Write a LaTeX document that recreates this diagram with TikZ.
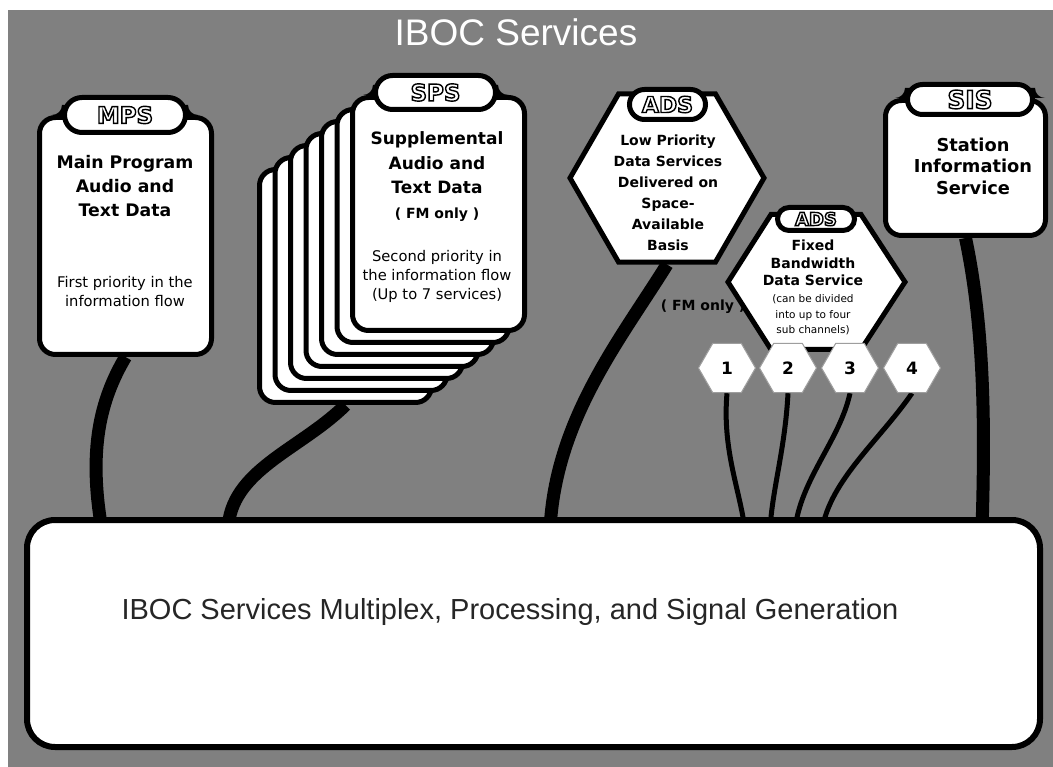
\documentclass[tikz,border=0pt]{standalone}
\usepackage{fontspec}
\setmainfont{DejaVu Sans}
\newfontfamily\arialfont{Liberation Sans}
\usetikzlibrary{shapes.geometric,shapes.misc}

\definecolor{bggray}{gray}{0.5}
\definecolor{hexrim}{gray}{0.62}

\pgfdeclarelayer{wires}
\pgfsetlayers{wires,main}

\tikzset{
  card/.style={draw, fill=white, line width=5pt, rounded corners=16pt, inner sep=0pt
  },
  tab/.style={draw, fill=white, line width=5pt, rounded rectangle, inner sep=0pt,
    text=white, font=\bfseries\fontsize{23}{23}\selectfont
  },
  hexa/.style={draw, fill=white, line width=5pt, regular polygon, regular polygon sides=6,
    inner sep=0pt
  },
  subhex/.style={draw=hexrim, fill=white, line width=1pt, regular polygon,
    regular polygon sides=6, minimum size=57pt, inner sep=0pt,
    font=\bfseries\fontsize{17}{17}\selectfont
  },
  head/.style={align=center, font=\bfseries\fontsize{17.3}{24}\selectfont},
  note/.style={align=center, font=\fontsize{14.7}{19}\selectfont},
  fmnote/.style={font=\bfseries\fontsize{14}{14}\selectfont},
  feed/.style={line width=13pt},
  thinfeed/.style={line width=5pt}
}
% white letters with a black rim
\newcommand{\tabtext}[1]{\special{pdf:literal direct 2 Tr 1.4 w 0 G}#1\special{pdf:literal direct 0 Tr}}
% black fillets where a tab meets its card
\newcommand{\tabfillet}[2]{
  \fill (#1.west |- #2.north) ++(6,0) -- ++(0,-10) -- ++(-6,0) .. controls +(0,5.5) and +(5.5,0) .. ++(-10,10) -- cycle;
  \fill (#1.east |- #2.north) ++(-6,0) -- ++(0,-10) -- ++(6,0) .. controls +(0,5.5) and +(-5.5,0) .. ++(10,10) -- cycle;
}

\begin{document}
\begin{tikzpicture}[x=1pt,y=-1pt]
 \useasboundingbox (0,0) rectangle (1053,767);

 % title
 \node[text=white, font=\arialfont\fontsize{37}{37}\selectfont] (title) at (516,32) {IBOC Services};

 % main program
 \node[card, minimum width=172pt, minimum height=237pt] (mps) at (125.5,236) {};
 \node[tab, minimum width=121pt, minimum height=35pt] (mpstab) at (125,115) {\tabtext{MPS}};
 \node[head] (mpshead) at (125,186) {Main Program\\Audio and\\Text Data};
 \node[note] (mpsnote) at (125,292) {First priority in the\\information flow};

 % supplemental program stack
 \foreach \k in {6,5,...,1} {
   \node[card, minimum width=172pt, minimum height=233pt] (sps\k) at ({438.5-15.5*\k},{214+12*\k}) {};
 }
 \node[card, minimum width=172pt, minimum height=233pt] (sps) at (438.5,214) {};
 \node[tab, minimum width=120pt, minimum height=34pt] (spstab) at (435.5,92.5) {\tabtext{SPS}};
 \node[head, font=\bfseries\fontsize{17}{24.5}\selectfont] (spshead) at (437,163) {Supplemental\\Audio and\\Text Data};
 \node[fmnote] (spsfm) at (437,215) {( FM only )};
 \node[note] (spsnote) at (437,276) {Second priority in\\the information flow\\(Up to 7 services)};

 % low priority data
 \node[hexa, minimum size=194pt] (ads) at (667,178) {};
 \node[tab, minimum width=76pt, minimum height=30pt, font=\bfseries\fontsize{22}{22}\selectfont] (adstab) at (667.5,104.5) {\tabtext{ADS}};
 \node[head, font=\bfseries\fontsize{14}{21}\selectfont] (adshead) at (668,193) {Low Priority\\Data Services\\Delivered on\\Space-\\Available\\Basis};

 % fixed bandwidth data
 \draw[line width=5pt, fill=white] (728,282) -- (771,214.5) -- (861,214.5) -- (905,282) -- (861,349.5) -- (771,349.5) -- cycle;
 \coordinate (fix) at (816,282);
 \node[tab, minimum width=77pt, minimum height=23pt, font=\bfseries\fontsize{18}{18}\selectfont] (fixtab) at (816,219) {\tabtext{ADS}};
 \node[head, font=\bfseries\fontsize{14}{17.5}\selectfont] (fixhead) at (813,263) {Fixed\\Bandwidth\\Data Service};
 \node[note, font=\fontsize{10.5}{15.5}\selectfont] (fixnote) at (813,315) {(can be divided\\into up to four\\sub channels)};
 \foreach \n/\x in {1/727,2/788,3/850,4/912} {
   \node[subhex] (sub\n) at (\x,368) {\n};
 }

 % station information
 \node[card, minimum width=160pt, minimum height=135pt] (sis) at (965.5,168) {};
 \node[tab, minimum width=125pt, minimum height=30pt, font=\bfseries\fontsize{25}{25}\selectfont] (sistab) at (970,99.5) {\tabtext{SIS}};
 \node[head, font=\bfseries\fontsize{17.8}{21.5}\selectfont] (sishead) at (973,166) {Station\\Information\\Service};

 % multiplexer
 \node[card, line width=6pt, rounded corners=28pt, minimum width=1013pt, minimum height=227pt] (mux) at (533.5,633.5) {};
 \node[anchor=west, text=black!85, font=\arialfont\fontsize{29}{29}\selectfont] (muxtext) at (118,612) {IBOC Services Multiplex, Processing, and Signal Generation};

 \coordinate (in1) at (102,530);
 \coordinate (in2) at (228,530);
 \coordinate (in3) at (550,530);
 \coordinate (in4) at (745,530);
 \coordinate (in5) at (770,530);
 \coordinate (in6) at (795,530);
 \coordinate (in7) at (822,530);
 \coordinate (in8) at (982,530);

 \begin{pgfonlayer}{wires}
 \fill[bggray] (8,10) rectangle (1053,767);
 \node[fmnote] (fm) at (703,307) {( FM only )};
 \draw[feed] (mps.south) .. controls (100,400) and (88,450) .. (in1);
 \draw[feed] (sps6.south) .. controls (300,450) and (230,470) .. (in2);
 \draw[feed] (ads.south) .. controls (620,340) and (555,420) .. (in3);
 \draw[thinfeed] (sub1.south) .. controls (722,450) and (740,490) .. (in4);
 \draw[thinfeed] (sub2.south) .. controls (785,450) and (772,490) .. (in5);
 \draw[thinfeed] (sub3.south) .. controls (840,440) and (800,480) .. (in6);
 \draw[thinfeed] (sub4.south) .. controls (880,440) and (830,480) .. (in7);
 \draw[feed] (sis.south) .. controls (985,330) and (985,430) .. (in8);
 \tabfillet{mpstab}{mps}
 \tabfillet{spstab}{sps}
 \tabfillet{sistab}{sis}
 \end{pgfonlayer}
\end{tikzpicture}
\end{document}
